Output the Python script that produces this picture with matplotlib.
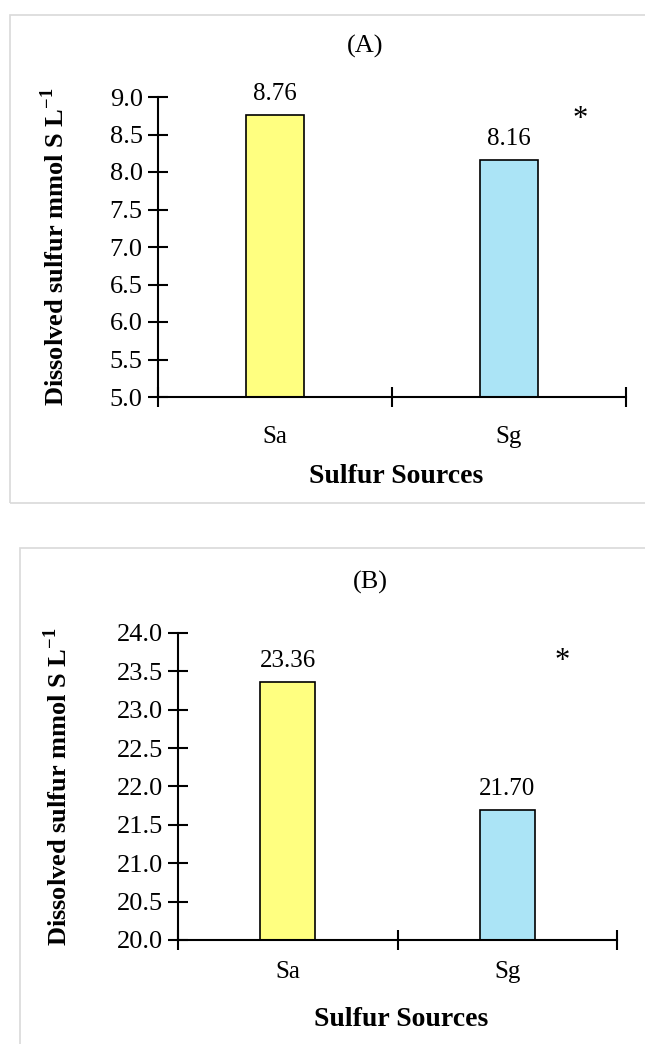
import matplotlib
matplotlib.use("Agg")
import matplotlib.pyplot as plt
from matplotlib.patches import Rectangle

plt.rcParams['font.family'] = ['Liberation Serif', 'DejaVu Serif']
plt.rcParams['mathtext.fontset'] = 'custom'
plt.rcParams['mathtext.rm'] = 'Liberation Serif:bold'
plt.rcParams['mathtext.bf'] = 'Liberation Serif:bold'

categories = ['Sa', 'Sg']
values_a = [8.76, 8.16]
values_b = [23.36, 21.70]
labels_a = ['8.76', '8.16']
labels_b = ['23.36', '21.70']
yticks_a = [5.0, 5.5, 6.0, 6.5, 7.0, 7.5, 8.0, 8.5, 9.0]
yticks_b = [20.0, 20.5, 21.0, 21.5, 22.0, 22.5, 23.0, 23.5, 24.0]
colors = ['#FFFF80', '#ABE4F6']

W, H = 645, 1044
fig = plt.figure(figsize=(W / 100, H / 100), dpi=100)

def fx(px):
    return px / W

def fy(py):
    return 1 - py / H

# panel frames
fig.patches.append(Rectangle((fx(10), fy(503)), fx(660) - fx(10), fy(15) - fy(503),
                             transform=fig.transFigure, fill=False, edgecolor='#d9d9d9', lw=1.2))
fig.patches.append(Rectangle((fx(20), fy(1060)), fx(660) - fx(20), fy(548) - fy(1060),
                             transform=fig.transFigure, fill=False, edgecolor='#d9d9d9', lw=1.2))

def panel(rect, vals, labs, yticks, title, title_xy, star_xy, lab_off, ylab_x, xlab_y, cat_y):
    l, t, r, b = rect
    ax = fig.add_axes([fx(l), fy(b), fx(r) - fx(l), fy(t) - fy(b)])
    x = list(range(len(categories)))
    ax.bar(x, [v - yticks[0] for v in vals], bottom=yticks[0], width=0.25,
           color=colors, edgecolor='black', linewidth=1.2)
    for xi, v, s in zip(x, vals, labs):
        ax.annotate(s, (xi, v), xytext=(0, lab_off), textcoords='offset pixels',
                    ha='center', va='bottom', fontsize=18)
    ax.set_xlim(-0.5, 1.5)
    ax.set_ylim(yticks[0], yticks[-1])
    ax.set_yticks(yticks)
    ax.set_yticklabels([f'{v:.1f}' for v in yticks], fontsize=19)
    ax.set_xticks([-0.5, 0.5, 1.5])
    ax.set_xticklabels([])
    ax.tick_params(axis='both', direction='inout', length=14, width=1.5, color='black')
    ax.tick_params(axis='y', pad=4)
    for s in ['top', 'right']:
        ax.spines[s].set_visible(False)
    for s in ['left', 'bottom']:
        ax.spines[s].set_linewidth(1.5)
    ax.patch.set_alpha(0)
    ypos = (fy(cat_y) - fy(b)) / (fy(t) - fy(b))
    for xi, c in zip(x, categories):
        ax.text(xi, ypos, c, transform=ax.get_xaxis_transform(), ha='center', va='center',
                fontsize=18)
    fig.text(fx(title_xy[0]), fy(title_xy[1]), title, ha='center', va='center', fontsize=19)
    fig.text(fx(star_xy[0]), fy(star_xy[1]), '*', ha='center', va='center', fontsize=22)
    fig.text(fx(ylab_x), (fy(t) + fy(b)) / 2, r'Dissolved sulfur mmol S L$^{\mathbf{-1}}$',
             rotation=90, ha='center', va='center', fontsize=19, fontweight='bold')
    fig.text(fx((l + r) / 2 + 4), fy(xlab_y), 'Sulfur Sources', ha='center', va='center',
             fontsize=20, fontweight='bold')
    return ax

panel((158, 97, 626, 397), values_a, labels_a, yticks_a, '(A)', (365, 46), (580, 120),
      10, 55, 476, 437)
panel((178, 633, 617, 940), values_b, labels_b, yticks_b, '(B)', (370, 582), (562, 662),
      10, 58, 1020, 972)

fig.savefig('out.png', dpi=100)
